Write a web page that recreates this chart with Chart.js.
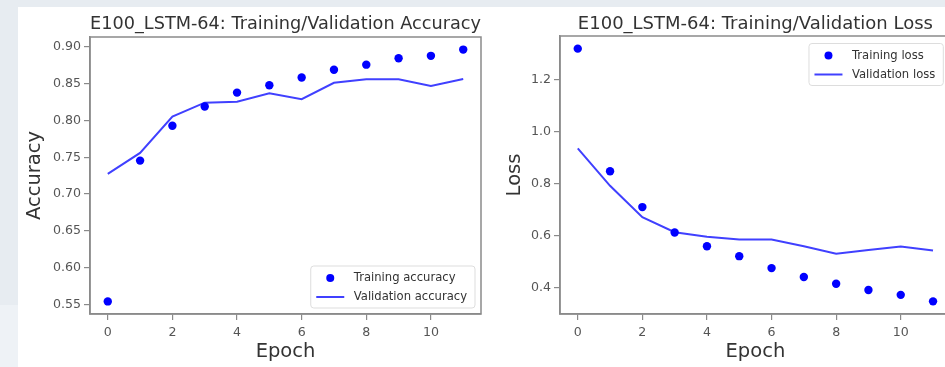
<!DOCTYPE html>
<html>
<head>
<meta charset="utf-8">
<script src="https://cdn.jsdelivr.net/npm/chart.js@4.4.1/dist/chart.umd.min.js"></script>
<style>
html,body{margin:0;padding:0;width:945px;height:367px;overflow:hidden;background:#e7ecf1;}
#fig{position:absolute;left:18px;top:7px;width:927px;height:360px;background:#ffffff;}
#strip{position:absolute;left:0;top:305px;width:18px;height:62px;background:#eef2f6;}
#c1{position:absolute;left:0;top:0;}
#c2{position:absolute;left:490px;top:0;}
</style>
</head>
<body>
<div id="fig"></div>
<div id="strip"></div>
<canvas id="c1" width="490" height="367"></canvas>
<canvas id="c2" width="470" height="367"></canvas>
<script>
// ---- data ----
const epochs = [0, 1, 2, 3, 4, 5, 6, 7, 8, 9, 10, 11];
const trainAcc = [0.554, 0.7455, 0.793, 0.819, 0.838, 0.848, 0.8586, 0.869, 0.876, 0.8847, 0.888, 0.8965];
const valAcc   = [0.7275, 0.756, 0.8054, 0.8243, 0.8257, 0.837, 0.829, 0.8514, 0.856, 0.856, 0.847, 0.8564];
const trainLoss = [1.319, 0.847, 0.709, 0.611, 0.558, 0.520, 0.474, 0.440, 0.414, 0.390, 0.371, 0.346];
const valLoss   = [0.935, 0.791, 0.670, 0.612, 0.595, 0.584, 0.584, 0.558, 0.529, 0.544, 0.557, 0.542];
const accTicks = [0.55, 0.60, 0.65, 0.70, 0.75, 0.80, 0.85, 0.90];
const lossTicks = [0.4, 0.6, 0.8, 1.0, 1.2];
const epochTicks = [0, 2, 4, 6, 8, 10];
const accTitle = 'E100_LSTM-64: Training/Validation Accuracy';
const lossTitle = 'E100_LSTM-64: Training/Validation Loss';
const accLabels = ['Training accuracy', 'Validation accuracy'];
const lossLabels = ['Training loss', 'Validation loss'];

const FF = '"DejaVu Sans", "Liberation Sans", sans-serif';
const SPINE = '#8a8a8a';
Chart.defaults.font.family = FF;

function padLimits(arrays) {
  const all = [].concat(...arrays);
  const mn = Math.min(...all), mx = Math.max(...all);
  const m = (mx - mn) * 0.05;
  return [mn - m, mx + m];
}

const framePlugin = {
  id: 'frame',
  afterDatasetsDraw(chart) {
    const a = chart.chartArea, ctx = chart.ctx;
    ctx.save();
    ctx.strokeStyle = SPINE;
    ctx.lineWidth = 1.5;
    ctx.strokeRect(a.left, a.top, a.right - a.left, a.bottom - a.top);
    ctx.restore();
  }
};

const boxLegendPlugin = {
  id: 'boxLegend',
  afterDraw(chart, args, opts) {
    const ctx = chart.ctx, a = chart.chartArea;
    const ds = chart.data.datasets;
    ctx.save();
    ctx.font = '11.6px ' + FF;
    let tw = 0;
    ds.forEach(d => { tw = Math.max(tw, ctx.measureText(d.label).width); });
    const w = 43 + tw + 8, h = 42;
    const x = a.right - opts.inset - w;
    const y = opts.corner === 'br' ? a.bottom - opts.inset - h : a.top + opts.inset;
    const r = 3;
    ctx.beginPath();
    ctx.moveTo(x + r, y); ctx.lineTo(x + w - r, y); ctx.quadraticCurveTo(x + w, y, x + w, y + r);
    ctx.lineTo(x + w, y + h - r); ctx.quadraticCurveTo(x + w, y + h, x + w - r, y + h);
    ctx.lineTo(x + r, y + h); ctx.quadraticCurveTo(x, y + h, x, y + h - r);
    ctx.lineTo(x, y + r); ctx.quadraticCurveTo(x, y, x + r, y);
    ctx.closePath();
    ctx.fillStyle = 'rgba(255,255,255,0.85)';
    ctx.fill();
    ctx.strokeStyle = '#dddddd';
    ctx.lineWidth = 1;
    ctx.stroke();
    ds.forEach((d, i) => {
      const cy = y + 12 + i * 19;
      const hx0 = x + 5.5, hx1 = x + 33.5;
      if (d.showLine === false) {
        ctx.beginPath();
        ctx.arc((hx0 + hx1) / 2, cy, 4, 0, Math.PI * 2);
        ctx.fillStyle = d.pointBackgroundColor;
        ctx.fill();
      } else {
        ctx.beginPath();
        ctx.moveTo(hx0, cy); ctx.lineTo(hx1, cy);
        ctx.strokeStyle = d.borderColor;
        ctx.lineWidth = d.borderWidth;
        ctx.stroke();
      }
      ctx.fillStyle = '#333333';
      ctx.textBaseline = 'middle';
      ctx.textAlign = 'left';
      ctx.fillText(d.label, x + 43, cy);
    });
    ctx.restore();
  }
};

function makeChart(id, c) {
  const [ymin, ymax] = padLimits([c.train, c.val]);
  return new Chart(document.getElementById(id), {
    type: 'line',
    data: {
      datasets: [
        {
          label: c.labels[0],
          data: epochs.map((e, i) => ({x: e, y: c.train[i]})),
          showLine: false,
          pointRadius: 4.2,
          pointBorderWidth: 0,
          pointBackgroundColor: '#0000ff',
          backgroundColor: '#0000ff',
          borderColor: '#0000ff'
        },
        {
          label: c.labels[1],
          data: epochs.map((e, i) => ({x: e, y: c.val[i]})),
          showLine: true,
          pointRadius: 0,
          borderColor: '#4040ff',
          borderWidth: 2,
          tension: 0,
          fill: false
        }
      ]
    },
    options: {
      responsive: false,
      animation: false,
      events: [],
      layout: {padding: {left: 0, top: 0, right: c.padRight, bottom: 0}},
      plugins: {
        legend: {display: false},
        tooltip: {enabled: false},
        title: {
          display: true,
          fullSize: false,
          text: c.title,
          align: 'center',
          color: '#333333',
          font: {family: FF, size: 18, weight: 'normal', lineHeight: 1.2},
          padding: {top: 13.2, bottom: c.titlePadBottom}
        },
        boxLegend: {corner: c.corner, inset: c.inset}
      },
      scales: {
        x: {
          type: 'linear',
          min: -0.55,
          max: 11.55,
          afterBuildTicks: s => { s.ticks = epochTicks.map(v => ({value: v})); },
          afterFit: s => { s.height = 53; },
          ticks: {color: '#555555', font: {family: FF, size: 12.6}, padding: 5, autoSkip: false, maxRotation: 0, callback: v => String(v)},
          grid: {display: true, drawOnChartArea: false, drawTicks: true, tickLength: 6, color: SPINE, lineWidth: 1.2},
          border: {display: true, color: SPINE, width: 1.5},
          title: {display: true, text: 'Epoch', color: '#333333', font: {family: FF, size: 19.5, lineHeight: 1.2}, padding: {top: 0, bottom: 3.4}}
        },
        y: {
          type: 'linear',
          min: ymin,
          max: ymax,
          afterBuildTicks: s => { s.ticks = c.yTicks.map(v => ({value: v})); },
          afterFit: s => { s.width = c.yWidth; },
          ticks: {color: '#555555', font: {family: FF, size: 12.6}, padding: 3, autoSkip: false, callback: v => Number(v).toFixed(c.dec)},
          grid: {display: true, drawOnChartArea: false, drawTicks: true, tickLength: 6, color: SPINE, lineWidth: 1.2},
          border: {display: true, color: SPINE, width: 1.5},
          title: {display: true, text: c.yTitle, color: '#333333', font: {family: FF, size: 19.5, lineHeight: 1.2}, padding: {top: c.yTitlePad, bottom: 0}}
        }
      }
    },
    plugins: [framePlugin, boxLegendPlugin]
  });
}

makeChart('c1', {
  train: trainAcc, val: valAcc, labels: accLabels, title: accTitle, yTitle: 'Accuracy',
  yTicks: accTicks, dec: 2, yWidth: 90, yTitlePad: 22.8, padRight: 9,
  titlePadBottom: 2.2, corner: 'br', inset: 6
});
makeChart('c2', {
  train: trainLoss, val: valLoss, labels: lossLabels, title: lossTitle, yTitle: 'Loss',
  yTicks: lossTicks, dec: 1, yWidth: 70, yTitlePad: 13.1, padRight: 9.2,
  titlePadBottom: 1.2, corner: 'tr', inset: 7.5
});
</script>
</body>
</html>
